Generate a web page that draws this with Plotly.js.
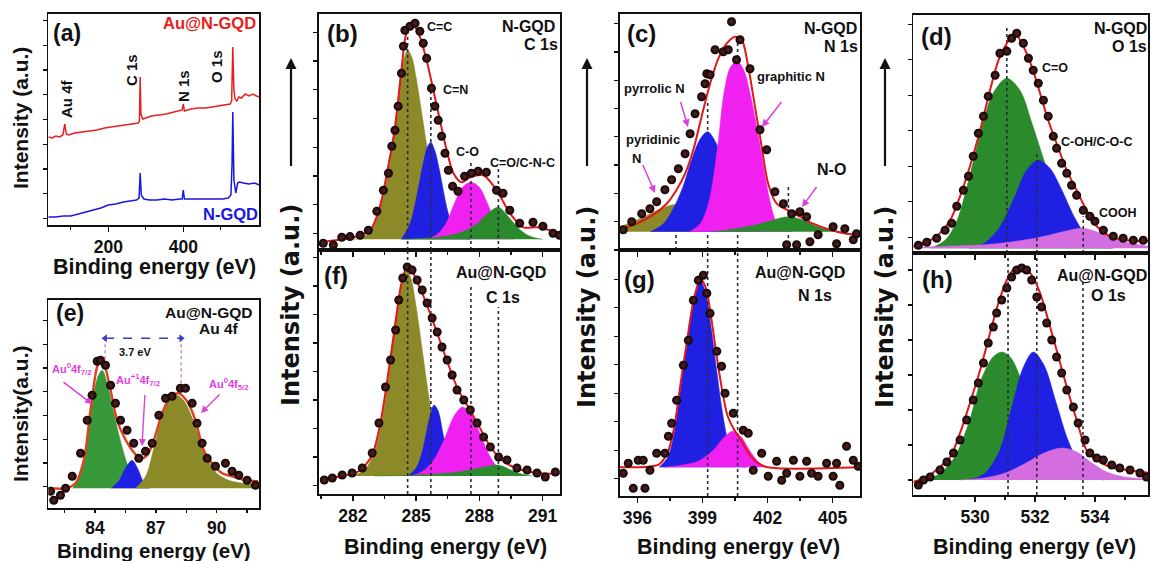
<!DOCTYPE html>
<html><head><meta charset="utf-8">
<script src="https://cdn.plot.ly/plotly-3.0.1.min.js"></script>
<style>html,body{margin:0;padding:0;background:#fff;} #chart{width:1151px;height:561px;}</style>
</head><body><div id="chart"></div>
<script>
// ================= DATA =================
// (a) survey spectra
const aRedE = [40,50,60,70,79,84,88,95,110,130,150,170,190,210,230,250,270,280,283,285,287,292,300,315,335,355,375,390,397,400,403,420,440,460,480,500,515,525,529,532,535,538,543,548,555,565,575,585,595,603];
const aRedI = [88,87,89,88,90,101,91,90,92,93,94,95,97,98,99,100,101,102,104,148,111,106,107,109,110,111,113,114,115,121,114,116,117,117,118,119,120,121,124,178,135,126,124,128,127,131,129,131,129,128];
const aBlueE = [40,60,80,100,120,140,160,180,200,220,240,260,275,282,285,288,295,310,330,350,370,390,397,400,403,420,450,480,505,520,527,530,532,535,540,545,550,560,575,590,603];
const aBlueI = [8,8,9,9,11,13,15,17,20,21,23,24,25,27,52,30,26,25,25,26,25,26,26,35,26,26,26,26,26,27,30,60,113,45,32,42,43,42,41,42,40];
const aTicks = [200,400], aMinor = [100,300,500];

// (e) Au 4f
const eDataE = [81.81,81.97,82.3,82.55,82.88,83.29,83.62,83.86,84.11,84.27,84.52,84.77,85.01,85.26,85.58,85.91,86.16,86.49,86.82,87.15,87.48,87.8,88.21,88.46,88.79,89.03,89.28,89.53,89.94,90.43,90.76,91.09,91.5,91.91];
const eDataI = [-3,-12,-7,0,12,35,68,93,127,128,123,103,85,68,58,45,30,37,45,73,90,92,100,100,85,65,45,30,22,25,17,13,8,3];
const eFitE = [81.73,82.55,83.04,83.45,83.78,84.11,84.28,84.44,84.77,85.09,85.42,85.83,86.24,86.57,86.9,87.31,87.72,88.13,88.54,88.95,89.36,89.77,90.27,90.76,91.42,92.04];
const eFitI = [0,0,5,28,78,122,128,125,98,68,52,38,30,33,48,75,92,95,87,68,38,25,15,12,8,7];
const eGreenE = [82.9,83.3,83.6,83.9,84.15,84.36,84.6,84.9,85.2,85.5,85.8,86.2,86.6];
const eGreenI = [0,15,45,90,112,118,105,78,52,30,14,4,0];
const eBlueE = [84.8,85.2,85.5,85.83,86.1,86.4,86.7];
const eBlueI = [0,8,20,28,20,6,0];
const eOliveE = [86.0,86.5,86.9,87.3,87.7,88.05,88.4,88.8,89.2,89.6,90.0,90.6,91.3,92.1];
const eOliveI = [0,12,40,72,90,93,87,70,48,28,15,8,5,4];
const eRefE = [84.5,88.25], eRefLow = [125,95], eRefHigh = 150;
const eTicks = [84,87,90], eMinor = [82.5,85.5,88.5,91.5];

// (b) N-GQD C 1s
const bDataE = [280.6,281.08,281.48,281.87,282.35,282.74,283.14,283.45,283.69,283.85,284.0,284.15,284.31,284.4,284.47,284.71,284.95,285.18,285.34,285.5,285.73,285.89,286.05,286.21,286.37,286.53,286.73,286.99,287.3,287.62,287.94,288.33,288.81,289.12,289.44,289.91,290.54,291.01,291.49,291.8];
const bDataI = [-4,-5.7,2,2.7,4,9,28,49,66,93,109,133,166,193,209,213,216,208,196,181,151,133,119,103,86,69,53,48,63,66,68,67,49,46,29,16,17,13,6,4];
const bFitE = [280.45,281.2,282.03,282.82,283.29,283.68,284.0,284.32,284.56,284.87,285.19,285.5,285.82,286.13,286.45,286.77,287.16,287.56,288.19,288.82,289.45,290.08,290.71,291.34,291.82];
const bFitI = [-3,-1,2,9,33,73,112,172,207,214,202,179,149,119,89,66,57,62,64,49,26,12,12,9,6];
const bOliveE = [281.5,282.5,283.0,283.5,283.9,284.2,284.45,284.6,284.8,285.0,285.3,285.6,285.9,286.3,286.8,287.5];
const bOliveI = [0,2,14,48,98,148,182,189,182,162,122,82,48,20,5,0];
const bBlueE = [284.3,284.7,285.0,285.3,285.55,285.7,285.9,286.1,286.3,286.5,286.8,287.2,287.6];
const bBlueI = [0,15,40,72,93,97,88,70,48,28,10,2,0];
const bMagE = [285.5,286.0,286.4,286.8,287.2,287.6,288.0,288.4,288.8,289.2,289.6];
const bMagI = [0,5,15,35,52,57,52,35,15,4,0];
const bGreenE = [284.3,286.0,287.0,287.8,288.4,288.9,289.4,289.9,290.4,291.0];
const bGreenI = [0,2,6,14,26,32,22,10,3,0];
const bRefE = [284.6,285.7,287.6,288.9], bRefTop = [209,153,79,73];

// (f) Au@N-GQD C 1s
const fDataE = [280.65,281.03,281.5,281.97,282.45,282.92,283.24,283.55,283.79,284.03,284.18,284.37,284.58,284.81,285.05,285.29,285.52,285.76,286.0,286.23,286.47,286.71,286.94,287.26,287.57,287.89,288.2,288.52,288.91,289.31,289.78,290.26,290.73,291.12,291.6];
const fDataI = [-4,-2,1,3,8,23,53,89,116,146,176,198,209,206,196,186,173,158,144,129,116,101,86,76,66,53,39,29,19,16,8,6,3,-1,4];
const fFitE = [280.45,281.5,282.3,282.9,283.3,283.7,284.0,284.3,284.55,284.8,285.1,285.5,286.0,286.5,287.0,287.5,288.0,288.5,289.0,289.5,290.0,290.7,291.8];
const fFitI = [-3,0,5,20,52,105,150,192,208,205,192,172,143,113,86,68,49,30,17,10,6,3,2];
const fOliveE = [281.8,282.5,283.0,283.4,283.8,284.1,284.35,284.55,284.75,285.0,285.3,285.6,285.9,286.2,286.6,287.2];
const fOliveI = [0,5,22,58,115,165,195,205,198,170,125,80,42,18,5,0];
const fBlueE = [284.6,285.0,285.3,285.6,285.85,286.05,286.3,286.55,286.9,287.3];
const fBlueI = [0,8,25,55,71,65,40,18,5,0];
const fMagE = [284.8,285.4,285.9,286.4,286.8,287.2,287.6,288.0,288.4,288.8,289.3,289.8];
const fMagI = [0,6,18,40,60,69,62,44,24,10,2,0];
const fGreenE = [283.0,285.0,287.0,288.0,288.9,289.5,290.0,290.5];
const fGreenI = [0,1,4,8,11,6,2,0];
const fRefE = [284.6,285.7,287.6,288.9], fRefTop = [226,226,189,169];
const cTicksC1s = [282,285,288,291], cMinorC1s = [280.5,283.5,286.5,289.5];

// (c) N-GQD N 1s
const cDataE = [395.35,395.74,396.2,396.58,396.89,397.27,397.58,397.89,398.2,398.43,398.66,398.96,399.12,399.2,399.35,399.58,399.96,400.19,400.34,400.57,400.73,401.19,401.65,401.96,402.34,402.73,402.88,403.11,403.34,403.49,403.8,403.95,404.33,405.02,405.18,405.56,405.95,406.1];
const cDataI = [2,10,18,23,30,42,52,63,78,98,118,135,148,158,157,182,180,182,210,172,192,163,102,82,40,28,-13,18,-13,20,15,-10,-3,5,-12,3,-8,-2];
const cFitE = [395.2,395.97,396.74,397.35,397.81,398.2,398.58,398.96,399.35,399.73,400.11,400.5,400.81,401.11,401.42,401.73,402.03,402.42,402.88,403.49,404.1,404.87,405.64,406.26];
const cFitI = [2,8,17,28,42,58,82,115,148,173,188,195,192,165,125,85,48,28,22,15,8,2,-2,-3];
const cOliveE = [395.2,395.8,396.5,397.2,397.8,398.3,398.8,399.3,399.8];
const cOliveI = [5,10,17,24,27,20,8,2,0];
const cBlueE = [396.6,397.2,397.7,398.1,398.5,398.9,399.24,399.6,400.0,400.4,400.8,401.3,401.8];
const cBlueI = [0,8,25,45,72,93,100,90,65,38,16,4,0];
const cMagE = [398.4,398.9,399.3,399.7,400.0,400.3,400.62,400.9,401.2,401.5,401.8,402.1,402.4,402.8,403.2];
const cMagI = [0,8,30,85,140,165,170,162,138,105,68,32,10,2,0];
const cGreenE = [399.5,400.5,401.5,402.3,402.96,403.6,404.2,404.8,405.4];
const cGreenI = [0,3,7,12,15,12,6,2,0];
const cRefE = [397.78,399.24,400.62,402.96], cRefTop = [0,132,198,45];

// (g) Au@N-GQD N 1s
const gDataE = [395.35,395.58,395.81,396.04,396.27,396.35,396.58,396.89,397.27,397.43,397.58,397.81,398.12,398.35,398.58,398.81,399.04,399.2,399.35,399.66,399.88,400.04,400.42,400.88,401.11,401.34,401.73,402.03,402.42,402.65,402.88,403.19,403.49,403.8,404.03,404.33,404.72,405.02,405.18,405.33,405.64,405.95,406.18];
const gDataI = [-6,4,-21,7,7,-21,-3,14,14,31,44,67,102,127,167,187,192,174,154,116,101,74,54,37,34,-3,14,-9,6,-13,-6,7,-9,6,-6,-9,4,-9,4,-18,21,7,1];
const gFitE = [395.2,397.0,397.4,397.7,398.0,398.3,398.6,398.9,399.15,399.4,399.65,399.9,400.15,400.45,400.75,401.1,401.5,402.0,406.26];
const gFitI = [0,3,15,40,85,128,168,188,180,150,112,78,52,38,28,15,5,0,0];
const gBlueE = [397.0,397.4,397.7,398.0,398.3,398.6,398.9,399.15,399.4,399.65,399.9,400.15,400.4,400.7,401.0];
const gBlueI = [0,10,35,80,125,165,186,175,140,98,58,28,10,2,0];
const gMagE = [397.2,398.0,398.8,399.5,400.0,400.4,400.8,401.2,401.6,402.0];
const gMagI = [0,2,6,17,30,36,30,16,5,0];
const gRefE = [399.24,400.62], gRefTop = [217.3,217.3];
const nTicks = [396,399,402,405], nMinor = [397.5,400.5,403.5];

// (d) N-GQD O 1s
const dDataE = [528.11,528.39,528.72,529.0,529.22,529.39,529.61,529.78,529.94,530.11,530.28,530.44,530.67,530.83,531.06,531.22,531.39,531.61,531.78,531.94,532.11,532.28,532.44,532.61,532.72,532.89,533.06,533.22,533.39,533.61,533.83,534.0,534.28,534.61,534.94,535.28,535.61];
const dDataI = [3,6,10,18,25,42,58,72,92,115,132,152,173,195,197,210,215,205,190,178,165,148,132,112,100,85,75,63,53,38,32,27,18,12,10,8,8];
const dFitE = [527.94,528.39,528.83,529.17,529.5,529.83,530.17,530.5,530.78,531.06,531.33,531.61,531.89,532.17,532.44,532.72,533.06,533.39,533.72,534.06,534.5,535.06,535.83];
const dFitI = [2,6,15,28,52,82,118,158,188,205,215,202,182,155,128,105,78,58,38,22,12,8,7];
const dGreenE = [528.5,529.0,529.4,529.8,530.2,530.6,531.06,531.5,531.9,532.3,532.7,533.1,533.5,534.0,534.5];
const dGreenI = [0,8,28,70,118,155,170,158,125,88,52,25,10,2,0];
const dBlueE = [529.8,530.3,530.8,531.3,531.7,532.1,532.5,532.9,533.3,533.7,534.1,534.6];
const dBlueI = [0,5,20,50,77,88,80,58,32,13,4,0];
const dVioE = [527.94,529.0,530.5,532.0,533.0,533.6,534.2,534.8,535.4,535.8];
const dVioI = [1,2,4,10,17,20,15,8,4,2];
const dRefE = [531.06,532.06,533.61], dRefTop = [223,95,32];

// (h) Au@N-GQD O 1s
const hDataE = [528.11,528.28,528.5,528.83,529.06,529.28,529.5,529.72,529.94,530.11,530.28,530.44,530.61,530.72,530.89,531.06,531.22,531.39,531.56,531.72,531.89,532.06,532.22,532.39,532.56,532.72,532.89,533.06,533.28,533.44,533.67,533.83,534.06,534.28,534.56,534.83,535.17,535.5,535.72];
const hDataI = [-5,0,3,10,18,27,40,60,80,97,117,137,153,167,180,192,203,210,212,210,200,183,173,157,140,123,107,90,73,57,40,27,22,20,15,12,10,7,3];
const hFitE = [527.94,528.39,528.83,529.17,529.5,529.83,530.17,530.5,530.78,531.06,531.33,531.61,531.89,532.17,532.44,532.72,533.06,533.39,533.72,534.06,534.5,535.06,535.83];
const hFitI = [-2,3,13,23,47,77,110,147,177,200,212,213,205,187,160,130,93,60,30,20,13,10,7];
const hGreenE = [528.3,528.8,529.3,529.8,530.2,530.6,530.9,531.2,531.6,532.0,532.4,532.8,533.2,533.6];
const hGreenI = [0,6,22,58,100,123,128,122,95,60,30,12,3,0];
const hBlueE = [529.8,530.3,530.8,531.2,531.6,531.94,532.3,532.7,533.1,533.5,533.9,534.3];
const hBlueI = [0,6,28,70,112,128,115,78,40,15,4,0];
const hVioE = [529.5,530.3,531.0,531.7,532.3,532.9,533.4,533.9,534.4,535.0,535.8];
const hVioI = [0,2,7,17,27,32,28,17,8,3,1];
const hRefE = [531.1,532.06,533.6], hRefTop = [227,227,200];
const oTicks = [530,532,534], oMinor = [529,531,533,535];

// ================= STYLE / LAYOUT =================
const W = 1151, H = 561;
const px = v => v / W, py = v => 1 - v / H;
const FONT = 'Liberation Sans, Arial, sans-serif';
const OLIVE = '#8c8a28', BLUE = '#2020e2', MAG = '#f020f0', GREEN = '#2b8a2b', VIO = '#d46ee0', FIT = '#e3161c';

// panel frames (pixel boxes) and axis ranges
const panels = {
  a: {n:1, xd:[48.3,259.3], yd:[14,225],   xr:[40,602.7],      yr:[0,211],       xt:aTicks, xm:aMinor, lab:true,  y0:6.7, dy:24.7},
  e: {n:2, xd:[48.3,259.3], yd:[300,508.3],xr:[81.7,92.1],     yr:[-20,188.3],   xt:eTicks, xm:eMinor, lab:true,  y0:1.7, dy:23.7},
  b: {n:3, xd:[319,560],    yd:[14,250],   xr:[280.4,291.82],  yr:[-10.7,225.3], xt:cTicksC1s, xm:cMinorC1s, lab:false, y0:6, dy:28.7},
  f: {n:4, xd:[319,560],    yd:[250,494],  xr:[280.4,291.82],  yr:[-18,226],     xt:cTicksC1s, xm:cMinorC1s, lab:true,  y0:19, dy:28.5},
  c: {n:5, xd:[620,860],    yd:[14,250],   xr:[395.2,406.26],  yr:[-18.3,217.7], xt:nTicks, xm:nMinor, lab:false, y0:10, dy:28.3},
  g: {n:6, xd:[620,860],    yd:[250,496],  xr:[395.2,406.26],  yr:[-28.7,217.3], xt:nTicks, xm:nMinor, lab:true,  y0:17, dy:28.5},
  d: {n:7, xd:[913.3,1148], yd:[15,253],   xr:[527.94,535.77], yr:[-4.7,233.3],  xt:oTicks, xm:oMinor, lab:false, y0:11, dy:35.5},
  h: {n:8, xd:[913.3,1148], yd:[253,495],  xr:[527.94,535.77], yr:[-15,227],     xt:oTicks, xm:oMinor, lab:true,  y0:0, dy:35}
};

const layout = {
  width: W, height: H, margin: {l:0, r:0, t:0, b:0},
  paper_bgcolor: '#fff', plot_bgcolor: '#fff', showlegend: false,
  font: {family: FONT, color: '#111'},
  annotations: [], shapes: []
};

function refs(p) { return {xa: p.n === 1 ? 'x' : 'x' + p.n, ya: p.n === 1 ? 'y' : 'y' + p.n}; }

Object.values(panels).forEach(p => {
  const k = p.n === 1 ? '' : p.n;
  const r = refs(p);
  layout['xaxis' + k] = {
    domain: [px(p.xd[0]), px(p.xd[1])], range: p.xr, anchor: r.ya,
    showline: true, mirror: true, linecolor: '#111', linewidth: 1.6,
    ticks: 'outside', ticklen: 5, tickwidth: 1.5, tickcolor: '#111',
    tickmode: 'array', tickvals: p.xt, ticktext: p.xt.map(String),
    showticklabels: p.lab,
    tickfont: {family: FONT, size: 17.5, weight: 700, color: '#111'},
    minor: {tickmode: 'array', tickvals: p.xm, ticks: 'outside', ticklen: 3, tickwidth: 1.3, tickcolor: '#111'},
    showgrid: false, zeroline: false
  };
  layout['yaxis' + k] = {
    domain: [py(p.yd[1]), py(p.yd[0])], range: p.yr, anchor: r.xa,
    showline: true, mirror: true, linecolor: '#111', linewidth: 1.6,
    ticks: 'outside', ticklen: 4, tickwidth: 1.3, tickcolor: '#111',
    tickmode: 'linear', tick0: p.y0, dtick: p.dy,
    showticklabels: false, showgrid: false, zeroline: false
  };
});
layout.xaxis2.ticklen = 3;

const traces = [];
function fillT(p, E, I, color) {
  const r = refs(p);
  traces.push({type:'scatter', mode:'lines', x:E, y:I, xaxis:r.xa, yaxis:r.ya,
    fill:'tozeroy', fillcolor:color, line:{color:color, width:0.5, shape:'spline', smoothing:0.9}, hoverinfo:'skip'});
}
function fitT(p, E, I, color, w) {
  const r = refs(p);
  traces.push({type:'scatter', mode:'lines', x:E, y:I, xaxis:r.xa, yaxis:r.ya,
    line:{color:color || FIT, width:w || 2, shape:'spline', smoothing:0.8}, hoverinfo:'skip'});
}
function dotT(p, E, I) {
  const r = refs(p);
  traces.push({type:'scatter', mode:'markers', x:E, y:I, xaxis:r.xa, yaxis:r.ya,
    marker:{size:9, color:'#0a0303', gradient:{type:'radial', color:'#5e2424'}, line:{width:0}}, hoverinfo:'skip'});
}
function refT(p, E, tops, bottom) {
  const r = refs(p), xs = [], ys = [];
  E.forEach((e, i) => { xs.push(e, e, null); ys.push(bottom, tops[i], null); });
  traces.push({type:'scatter', mode:'lines', x:xs, y:ys, xaxis:r.xa, yaxis:r.ya,
    line:{color:'#2a2a3a', width:1.6, dash:'dot'}, hoverinfo:'skip'});
}
function lineT(p, E, I, color) {
  const r = refs(p);
  traces.push({type:'scatter', mode:'lines', x:E, y:I, xaxis:r.xa, yaxis:r.ya,
    line:{color:color, width:1.5}, hoverinfo:'skip'});
}

// (a)
lineT(panels.a, aRedE, aRedI, '#e82020');
lineT(panels.a, aBlueE, aBlueI, '#1818e0');
// (e)
fillT(panels.e, eGreenE, eGreenI, '#37993a');
fillT(panels.e, eBlueE, eBlueI, BLUE);
fillT(panels.e, eOliveE, eOliveI, OLIVE);
(function(){
  const r = refs(panels.e), xs = [], ys = [];
  eRefE.forEach((e, i) => { xs.push(e, e, null); ys.push(eRefHigh, eRefLow[i], null); });
  traces.push({type:'scatter', mode:'lines', x:xs, y:ys, xaxis:r.xa, yaxis:r.ya, line:{color:'#c77bd6', width:1.4, dash:'dot'}, hoverinfo:'skip'});
  traces.push({type:'scatter', mode:'lines+markers', x:eRefE, y:[eRefHigh, eRefHigh], xaxis:r.xa, yaxis:r.ya,
    line:{color:'#3a3acc', width:1.5, dash:'dash'}, marker:{symbol:['triangle-left','triangle-right'], size:7, color:'#3a3acc'}, hoverinfo:'skip'});
})();
fitT(panels.e, eFitE, eFitI, '#e2401c', 2.4);
dotT(panels.e, eDataE, eDataI);
// (b)
fillT(panels.b, bOliveE, bOliveI, OLIVE);
fillT(panels.b, bBlueE, bBlueI, BLUE);
fillT(panels.b, bMagE, bMagI, MAG);
fillT(panels.b, bGreenE, bGreenI, GREEN);
refT(panels.b, bRefE, bRefTop, panels.b.yr[0]);
fitT(panels.b, bFitE, bFitI);
dotT(panels.b, bDataE, bDataI);
// (f)
fillT(panels.f, fOliveE, fOliveI, OLIVE);
fillT(panels.f, fBlueE, fBlueI, BLUE);
fillT(panels.f, fMagE, fMagI, MAG);
fillT(panels.f, fGreenE, fGreenI, GREEN);
refT(panels.f, fRefE, fRefTop, panels.f.yr[0]);
fitT(panels.f, fFitE, fFitI);
dotT(panels.f, fDataE, fDataI);
// (c)
refT(panels.c, cRefE, cRefTop, panels.c.yr[0]);
fillT(panels.c, cOliveE, cOliveI, OLIVE);
fillT(panels.c, cBlueE, cBlueI, BLUE);
fillT(panels.c, cMagE, cMagI, MAG);
fillT(panels.c, cGreenE, cGreenI, GREEN);
fitT(panels.c, cFitE, cFitI);
dotT(panels.c, cDataE, cDataI);
// (g)
fillT(panels.g, gBlueE, gBlueI, BLUE);
fillT(panels.g, gMagE, gMagI, MAG);
refT(panels.g, gRefE, gRefTop, panels.g.yr[0]);
fitT(panels.g, gFitE, gFitI);
dotT(panels.g, gDataE, gDataI);
// (d)
fillT(panels.d, dGreenE, dGreenI, GREEN);
fillT(panels.d, dBlueE, dBlueI, BLUE);
fillT(panels.d, dVioE, dVioI, VIO);
refT(panels.d, dRefE, dRefTop, panels.d.yr[0]);
fitT(panels.d, dFitE, dFitI);
dotT(panels.d, dDataE, dDataI);
// (h)
fillT(panels.h, hGreenE, hGreenI, GREEN);
fillT(panels.h, hBlueE, hBlueI, BLUE);
fillT(panels.h, hVioE, hVioI, VIO);
refT(panels.h, hRefE, hRefTop, panels.h.yr[0]);
fitT(panels.h, hFitE, hFitI);
dotT(panels.h, hDataE, hDataI);

// ================= TEXT =================
const A = layout.annotations;
function txt(t, x, y, size, color, extra) {
  A.push(Object.assign({xref:'paper', yref:'paper', x:px(x), y:py(y), text:t, showarrow:false,
    xanchor:'center', yanchor:'middle', font:{family:FONT, size:size, color:color || '#111', weight:700}}, extra || {}));
}
function arrow(x0, y0, x1, y1, color, w) {
  A.push({xref:'paper', yref:'paper', x:px(x1), y:py(y1), ax:x0 - x1, ay:y0 - y1, axref:'pixel', ayref:'pixel',
    text:' ', showarrow:true, arrowhead:2, arrowsize:1, arrowwidth:w, arrowcolor:color, font:{size:1}});
}
const ROT = {textangle:-90};
const PINK = '#dd3fdd';

// (a)
txt('(a)', 67, 33, 23);
txt('Au@N-GQD', 209, 23, 16.5, '#e82020');
txt('N-GQD', 230, 214, 16.5, '#1818e0');
txt('Au 4f', 66, 99, 15, null, ROT);
txt('C 1s', 132, 70, 15, null, ROT);
txt('N 1s', 183, 86, 15, null, ROT);
txt('O 1s', 217, 67, 15, null, ROT);
txt('Intensity (a.u.)', 20, 118, 21, null, ROT);
txt('Binding energy (eV)', 154, 267, 21.5);
// (e)
txt('(e)', 70, 313, 23);
txt('Au@N-GQD', 208, 312, 15.5);
txt('Au 4f', 219, 328, 15.5);
txt('3.7 eV', 135, 352, 11);
txt('Au<sup>0</sup>4f<sub>7/2</sub>', 71, 369, 11, PINK);
txt('Au<sup>+1</sup>4f<sub>7/2</sub>', 138, 380, 11, PINK);
txt('Au<sup>0</sup>4f<sub>5/2</sub>', 228, 384, 11, PINK);
arrow(62, 381, 92, 404, PINK, 1.4);
arrow(145, 393, 142, 446, PINK, 1.4);
arrow(221, 393, 201, 413, PINK, 1.4);
txt('Intensity(a.u.)', 20, 414, 21, null, ROT);
txt('Binding energy (eV)', 154, 550, 20.5);
// (b)/(f)
txt('(b)', 342, 33, 24);
txt('N-GQD', 528, 27, 16);
txt('C 1s', 541, 45, 16);
txt('C=C', 439, 27, 12.5);
txt('C=N', 455, 90, 12.5);
txt('C-O', 467, 152, 12.5);
txt('C=O/C-N-C', 522, 163, 12.5);
txt('(f)', 336, 275, 24);
txt('Au@N-GQD', 501, 273, 16);
txt('C 1s', 503, 297, 16);
txt('Binding energy (eV)', 445, 547, 21.5);
// (c)/(g)
txt('(c)', 641, 33, 24);
txt('N-GQD', 830, 28, 16);
txt('N 1s', 841, 47, 16);
txt('pyrrolic N', 654, 88, 13);
txt('pyridinic', 653, 140, 13);
txt('N', 636, 158, 13);
txt('graphitic N', 791, 77, 13);
txt('N-O', 831, 170, 16);
arrow(680, 100, 688, 127, PINK, 1.5);
arrow(642, 163, 655, 193, PINK, 1.5);
arrow(783, 100, 762, 127, PINK, 1.5);
arrow(818, 185, 802, 207, PINK, 1.5);
txt('(g)', 639, 280, 24);
txt('Au@N-GQD', 800, 273, 16);
txt('N 1s', 815, 295, 16);
txt('Binding energy (eV)', 738, 547, 21.5);
// (d)/(h)
txt('(d)', 936, 37, 24);
txt('N-GQD', 1120, 28, 16);
txt('O 1s', 1129, 47, 16);
txt('C=O', 1055, 68, 12.5);
txt('C-OH/C-O-C', 1097, 142, 12.5);
txt('COOH', 1118, 213, 12.5);
txt('(h)', 937, 280, 24);
txt('Au@N-GQD', 1102, 275, 16);
txt('O 1s', 1108, 295, 16);
txt('Binding energy (eV)', 1034, 547, 21.5);
// big intensity labels with arrows
[[291, 305], [587, 307], [885, 307]].forEach(([x, y]) => {
  txt('Intensity (a.u.)', x, y, 24, null, {textangle:-90, font:{family:'DejaVu Sans, sans-serif', size:24, color:'#111', weight:700}});
  arrow(x, 168, x, 58, '#111', 2.2);
});

Plotly.newPlot('chart', traces, layout, {staticPlot:true, displayModeBar:false});
</script></body></html>
